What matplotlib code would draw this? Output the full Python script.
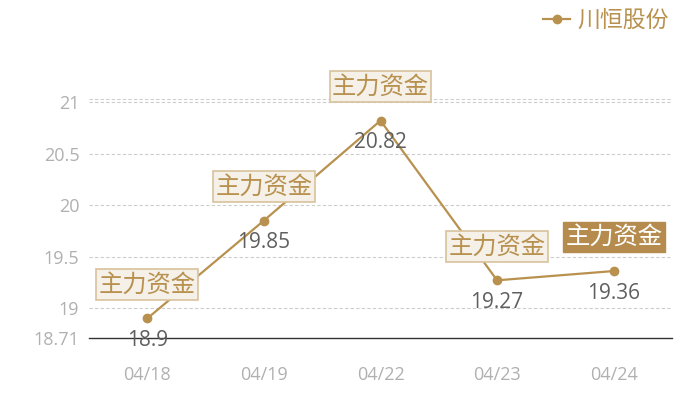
import matplotlib
matplotlib.use("Agg")
import matplotlib.pyplot as plt
from matplotlib.lines import Line2D

plt.rcParams['font.family'] = ['Open Sans', 'Noto Sans CJK SC', 'DejaVu Sans']
cjk = ['Noto Sans CJK SC', 'DejaVu Sans']

dates = ["04/18", "04/19", "04/22", "04/23", "04/24"]
prices = [18.9, 19.85, 20.82, 19.27, 19.36]
tag_text = "主力资金"
highlight = [False, False, False, False, True]
yticks = [18.71, 19, 19.5, 20, 20.5, 21]
series_name = "川恒股份"

gold = "#b8914f"
fig = plt.figure(figsize=(7, 4), dpi=100)
ax = fig.add_axes([89/700, 62/400, (672-89)/700, (338-99)/400])

x = list(range(len(dates)))
ax.plot(x, prices, color=gold, lw=1.6, marker='o', ms=6, zorder=3)
ax.set_xlim(-0.5, len(dates) - 0.5)
ax.set_ylim(18.71, 21.03)

for yv in yticks[1:] + [21.03]:
    ax.axhline(yv, color="#cccccc", lw=0.8, ls=(0, (3, 2)), zorder=0)

ax.set_yticks(yticks)
ax.set_yticklabels([f"{v:g}" for v in yticks])
ax.set_xticks(x)
ax.set_xticklabels(dates)
ax.tick_params(axis='both', length=0, labelsize=13, colors="#b0b0b0")
ax.tick_params(axis='x', pad=20)
ax.tick_params(axis='y', pad=7)
for s in ["top", "right", "left"]:
    ax.spines[s].set_visible(False)
ax.spines["bottom"].set_color("#333333")
ax.spines["bottom"].set_linewidth(1)

for i, (xi, p) in enumerate(zip(x, prices)):
    ax.annotate(f"{p:g}", (xi, p), xytext=(0, -22), textcoords="offset pixels",
                ha="center", va="center", fontsize=15, color="#5f5f5f", zorder=5)
    if highlight[i]:
        bbox = dict(boxstyle="square,pad=0.1", fc="#b58c4e", ec="#b58c4e", lw=1)
        tc = "white"
    else:
        bbox = dict(boxstyle="square,pad=0.1", fc="#f5f0e8", ec="#d8c29c", lw=1.2)
        tc = gold
    ax.annotate(tag_text, (xi, p), xytext=(0, 34), textcoords="offset pixels",
                ha="center", va="center", fontsize=17.5, color=tc, bbox=bbox,
                family=cjk, zorder=6)

handle = Line2D([], [], color=gold, marker='o', ms=6, lw=1.6)
leg = fig.legend([handle], [series_name], loc="upper right", bbox_to_anchor=(0.985, 1.03),
                 frameon=False, handlelength=1.2, handletextpad=0.3,
                 prop={'family': cjk, 'size': 16.5})
for t in leg.get_texts():
    t.set_color(gold)

fig.savefig("out.png", dpi=100)
